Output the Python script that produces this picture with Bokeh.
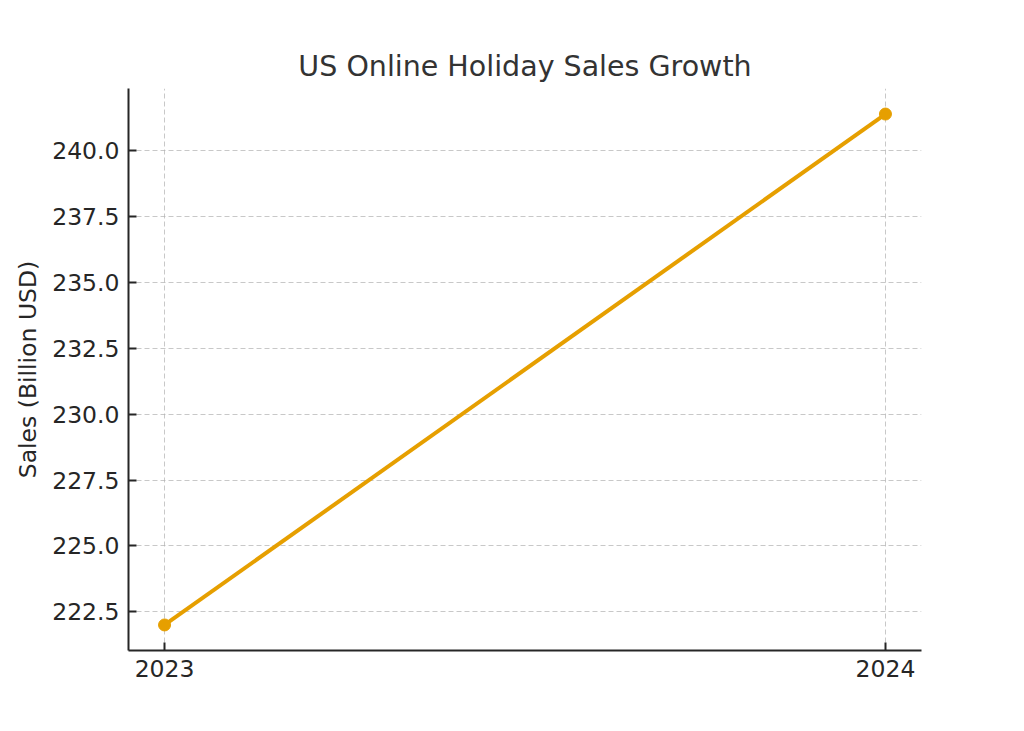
from bokeh.plotting import figure
from bokeh.models import Range1d, FixedTicker, NumeralTickFormatter
from bokeh.embed import file_html
from bokeh.resources import INLINE

# US online holiday sales, billion USD
years = [2023, 2024]
sales = [222.0, 241.4]
year_labels = ["2023", "2024"]
y_ticks = [222.5, 225.0, 227.5, 230.0, 232.5, 235.0, 237.5, 240.0]

FONT = "DejaVu Sans"
ORANGE = "#E69F00"

p = figure(
    width=1024, height=731,
    output_backend="svg", toolbar_location=None,
    x_range=Range1d(2022.95, 2024.05),
    y_range=Range1d(221.03, 242.37),
    min_border_left=128, min_border_right=103,
    min_border_top=88, min_border_bottom=81,
    title="US Online Holiday Sales Growth",
)
p.outline_line_color = None
p.background_fill_color = "white"
p.border_fill_color = "white"

p.title.text_font = FONT
p.title.text_font_size = "28.5px"
p.title.text_font_style = "normal"
p.title.text_color = "#333333"
p.title.align = "center"
p.title.standoff = 11

p.line(years, sales, line_color=ORANGE, line_width=4)
p.scatter(years, sales, size=12, fill_color=ORANGE, line_color=ORANGE)

for ax in (p.xaxis[0], p.yaxis[0]):
    ax.axis_line_color = "#262626"
    ax.axis_line_width = 2
    ax.major_tick_line_color = "#262626"
    ax.major_tick_line_width = 2
    ax.major_tick_in = 8
    ax.major_tick_out = 0
    ax.minor_tick_line_color = None
    ax.major_label_text_font = FONT
    ax.major_label_text_font_size = "23.5px"
    ax.major_label_text_color = "#262626"
    ax.major_label_standoff = 9

p.xaxis.ticker = FixedTicker(ticks=years)
p.xaxis.major_label_overrides = {y: lbl for y, lbl in zip(years, year_labels)}

p.yaxis.ticker = FixedTicker(ticks=y_ticks)
p.yaxis.formatter = NumeralTickFormatter(format="0.0")
p.yaxis.axis_label = "Sales (Billion USD)"
p.yaxis.axis_label_text_font = FONT
p.yaxis.axis_label_text_font_size = "23.5px"
p.yaxis.axis_label_text_font_style = "normal"
p.yaxis.axis_label_text_color = "#262626"
p.yaxis.axis_label_standoff = 7

for g in (p.xgrid[0], p.ygrid[0]):
    g.grid_line_color = "#b0b0b0"
    g.grid_line_alpha = 0.7
    g.grid_line_dash = "5 3"
    g.grid_line_width = 1

open("out.html", "w").write(file_html(p, INLINE))
